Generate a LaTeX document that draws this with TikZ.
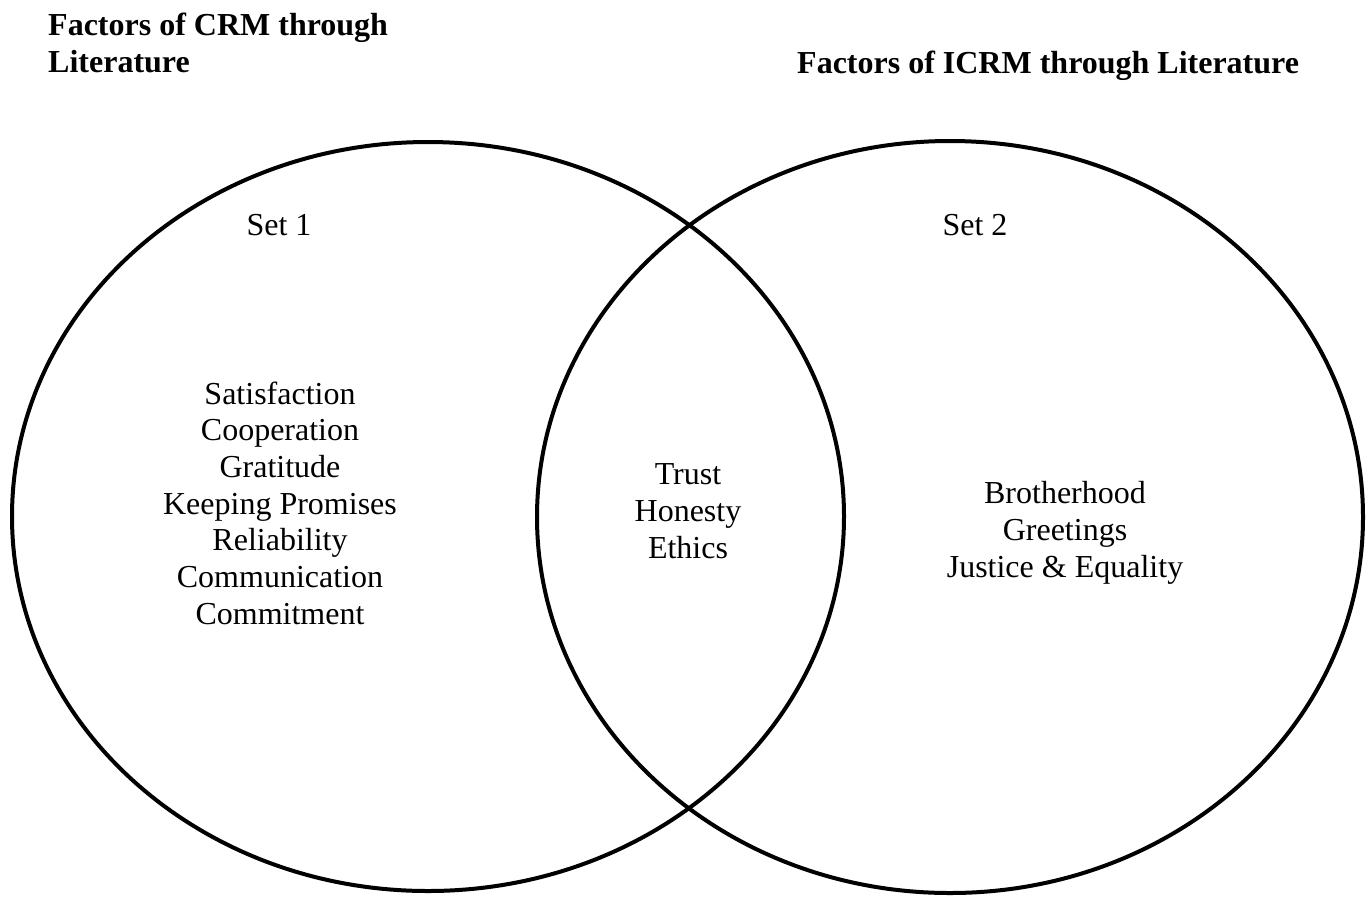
\documentclass[tikz,border=0pt]{standalone}
\usepackage{fontspec}
\setmainfont{Liberation Serif}
\usepackage{tikz}
\usetikzlibrary{positioning}
\tikzset{
  setline/.style={line width=4pt,black},
  head/.style={font=\fontsize{32}{37}\selectfont\bfseries,inner sep=0pt,align=left},
  item/.style={font=\fontsize{32}{36.7}\selectfont,inner sep=0pt,align=center},
  setlab/.style={font=\fontsize{32}{36}\selectfont,inner sep=0pt}
}

\begin{document}
\begin{tikzpicture}[x=1pt,y=-1pt]
\useasboundingbox (0,0) rectangle (1367,898);
% the two sets
\coordinate (c1) at (428,516.5);
\coordinate (c2) at (950,517);
\draw[setline] (c1) ellipse [x radius=416pt,y radius=374.5pt];
\draw[setline] (c2) ellipse [x radius=413pt,y radius=376pt];
% headings
\node[head,anchor=north west] (crmhead) at (48,13) {Factors of CRM through\\Literature};
\node[head,anchor=base west] (icrmhead) at (797,73) {Factors of ICRM through Literature};
\node[setlab,anchor=base] (set1) at (279,235) {Set 1};
\node[setlab,anchor=base] (set2) at (975,235) {Set 2};
% factors
\node[item] (crmlist) at (280,503) {Satisfaction\\Cooperation\\Gratitude\\Keeping Promises\\Reliability\\Communication\\Commitment};
\node[item] (common) at (688,511) {Trust\\Honesty\\Ethics};
\node[item] (icrmlist) at (1065,533) {Brotherhood\\Greetings\\Justice \& Equality};
\end{tikzpicture}
\end{document}
